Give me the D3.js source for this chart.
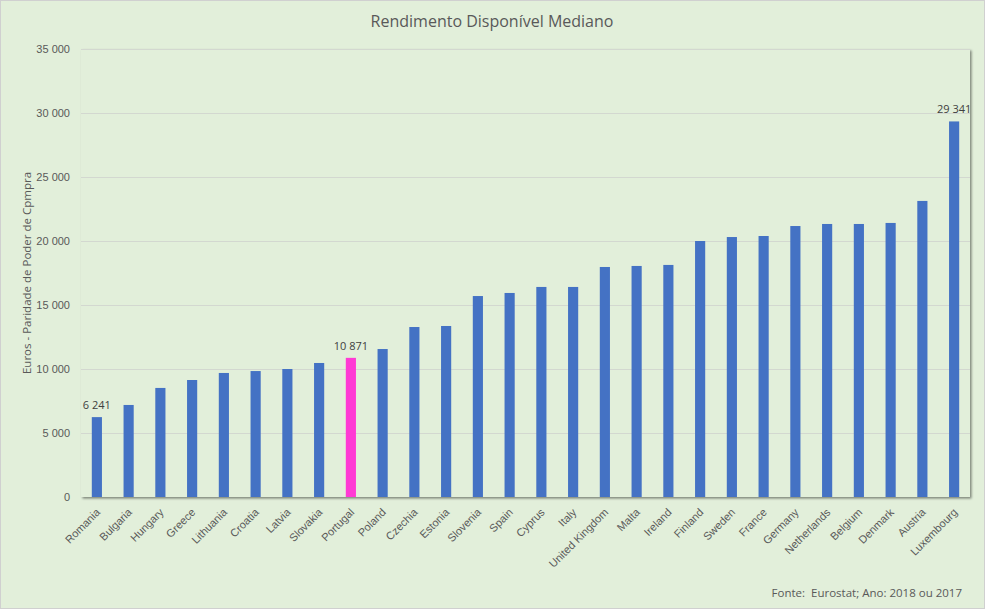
<!DOCTYPE html>
<html><head><meta charset="utf-8">
<script src="https://cdn.jsdelivr.net/npm/d3@7"></script>
<style>
html,body{margin:0;padding:0;background:#fff;}
svg{display:block;font-family:"Open Sans","Noto Sans",sans-serif;}
</style></head>
<body>
<svg id="c" width="985" height="609"></svg>
<script>
const countries = ["Romania","Bulgaria","Hungary","Greece","Lithuania","Croatia","Latvia","Slovakia","Portugal","Poland","Czechia","Estonia","Slovenia","Spain","Cyprus","Italy","United Kingdom","Malta","Ireland","Finland","Sweden","France","Germany","Netherlands","Belgium","Denmark","Austria","Luxembourg"];
const values = [6241,7190,8520,9140,9690,9840,10000,10470,10871,11560,13280,13360,15700,15940,16410,16410,17970,18050,18130,20000,20310,20390,21170,21330,21330,21410,23130,29341];
const labelled = ["Romania","Portugal","Luxembourg"];
const highlight = "Portugal";
const yTicks = [0,5000,10000,15000,20000,25000,30000,35000];
const title = "Rendimento Disponível Mediano";
const yTitle = "Euros - Paridade de Poder de Cpmpra";
const source = "Fonte:  Eurostat; Ano: 2018 ou 2017";

const svg = d3.select("#c");
const W = 985, H = 609;
const m = {l:81, r:15, t:49, b:112};
const textCol = "#595959";

svg.append("rect").attr("x",0.5).attr("y",0.5).attr("width",W-1).attr("height",H-1)
  .attr("fill","#E2EFDA").attr("stroke","#D0D0D0");

const defs = svg.append("defs");
const f = defs.append("filter").attr("id","sh").attr("x","-5%").attr("y","-5%").attr("width","110%").attr("height","110%");
f.append("feDropShadow").attr("dx",1.5).attr("dy",1.5).attr("stdDeviation",1.2).attr("flood-color","#000").attr("flood-opacity",0.45);

const x = d3.scaleBand().domain(countries).range([m.l, W-m.r]).paddingInner(0.68).paddingOuter(0.34);
const y = d3.scaleLinear().domain([0,35000]).range([H-m.b, m.t]);

// plot area with shadow
svg.append("rect").attr("x",m.l).attr("y",m.t).attr("width",W-m.r-m.l).attr("height",H-m.b-m.t)
  .attr("fill","#E2EFDA").attr("filter","url(#sh)");

// gridlines
svg.append("g").selectAll("line").data(yTicks.filter(d=>d>0)).join("line")
  .attr("x1",m.l).attr("x2",W-m.r).attr("y1",d=>y(d)+0.5).attr("y2",d=>y(d)+0.5)
  .attr("stroke","#D3D8D0").attr("stroke-width",1);

// y axis
const yAxis = svg.append("g").attr("transform",`translate(${m.l},0)`)
  .call(d3.axisLeft(y).tickValues(yTicks).tickSize(0).tickPadding(11)
    .tickFormat(d=>d3.format(",")(d).replace(/,/g," ")));
yAxis.select(".domain").remove();
yAxis.selectAll("text").attr("fill",textCol).attr("font-size",11);

// bars
svg.append("g").selectAll("rect").data(countries).join("rect")
  .attr("x",d=>x(d)).attr("width",x.bandwidth())
  .attr("y",(d,i)=>y(values[i])).attr("height",(d,i)=>y(0)-y(values[i]))
  .attr("fill",d=>d===highlight?"#FF3AD4":"#4472C4");

// data labels
svg.append("g").selectAll("text").data(countries.filter(d=>labelled.includes(d))).join("text")
  .attr("x",d=>x(d)+x.bandwidth()/2).attr("y",d=>y(values[countries.indexOf(d)])-8)
  .attr("text-anchor","middle").attr("font-size",11).attr("fill","#404040")
  .text(d=>d3.format(",")(values[countries.indexOf(d)]).replace(/,/g," "));

// x axis labels
const xAxis = svg.append("g").attr("transform",`translate(0,${H-m.b})`)
  .call(d3.axisBottom(x).tickSize(0).tickPadding(0));
xAxis.select(".domain").remove();
xAxis.selectAll("text").attr("fill",textCol).attr("font-size",11)
  .attr("text-anchor","end").attr("dy",0)
  .attr("transform","translate(4,16) rotate(-45)");

// title
svg.append("text").attr("x",492).attr("y",27).attr("text-anchor","middle")
  .attr("font-size",16).attr("fill",textCol).text(title);

// y title
svg.append("text").attr("transform",`translate(31,${(m.t+H-m.b)/2}) rotate(-90)`)
  .attr("text-anchor","middle").attr("font-size",11.5).attr("fill",textCol).text(yTitle);

// source
svg.append("text").attr("x",962).attr("y",597).attr("text-anchor","end")
  .attr("font-size",11.5).attr("fill",textCol).attr("xml:space","preserve").text(source);
</script>
</body></html>
